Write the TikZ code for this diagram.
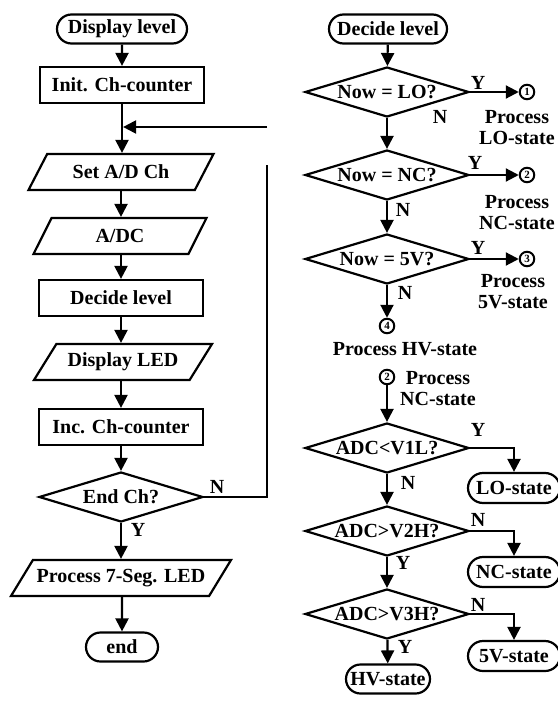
\documentclass[tikz,border=0pt]{standalone}
\usepackage{fontspec}
\setmainfont{Liberation Serif}
\usetikzlibrary{shapes,arrows.meta,calc}

\begin{document}
\begin{tikzpicture}[x=1pt,y=-1pt,line width=2.2pt,
    font=\fontsize{20}{21}\selectfont\bfseries,
    term/.style={draw,rounded rectangle,minimum height=29pt,inner xsep=0pt,inner ysep=2pt},
    proc/.style={draw,rectangle,minimum width=164pt,minimum height=36pt},
    io/.style={draw,trapezium,trapezium left angle=48,trapezium right angle=132,
        trapezium stretches body,minimum height=36pt,inner xsep=-10pt},
    dec/.style={draw,diamond,aspect=3.3,inner sep=-6pt,minimum width=164pt,minimum height=50pt},
    circ/.style={draw,circle,minimum size=14.5pt,inner sep=0pt,line width=2pt,
        font=\fontsize{11}{11}\selectfont\bfseries},
    state/.style={draw,rounded rectangle,minimum width=86pt,minimum height=30pt,inner xsep=-3pt,inner ysep=2pt},
    txt/.style={align=center,inner sep=0pt},
    conn/.style={-{Triangle[length=13pt,width=13pt]}}
]
    \useasboundingbox (0,0) rectangle (557,703);

    % left: display level
    \node[term,minimum width=130pt] (disp) at (122,29) {Display level};
    \node[proc] (init) at (122,85) {Init. Ch-counter};
    \node[io,minimum width=185pt] (setad) at (121,172) {Set A/D Ch};
    \node[io,minimum width=173pt] (adc) at (120,236) {A/DC};
    \node[proc] (decide) at (121,298) {Decide level};
    \node[io,minimum width=178pt] (led) at (123,362) {Display LED};
    \node[proc] (inc) at (121,427) {Inc. Ch-counter};
    \node[dec] (endch) at (121,497) {End Ch?};
    \node[io,minimum width=220pt] (seg) at (121,578) {Process 7-Seg. LED};
    \node[term,minimum width=72pt] (end) at (122,647) {end};

    \coordinate (nturn) at (267,497);
    \coordinate (ntop) at (267,165);
    \coordinate (back) at (267,127);

    \draw[conn] (disp) -- (init);
    \draw[conn] (init.south) -- (init.south |- setad.north);
    \draw[conn] (setad.south) -- (setad.south |- adc.north);
    \draw[conn] (adc.south -| decide) -- (decide);
    \draw[conn] (decide.south) -- (decide.south |- led.north);
    \draw[conn] (led.south -| inc) -- (inc);
    \draw[conn] (inc) -- (endch);
    \draw[conn] (endch) -- (endch.south |- seg.north);
    \draw[conn] (seg.south -| end) -- (end);
    \draw (endch.east) -- (nturn) -- (ntop);
    \draw[conn,shorten >=1.1pt] (back) -- (init.south |- back);
    \node at (217,487) {N};
    \node at (138,530) {Y};

    % right: decide level
    \node[term,minimum width=118pt] (dl) at (388,29) {Decide level};
    \node[dec] (lo) at (387,92) {Now = LO?};
    \node[dec] (nc) at (387,175) {Now = NC?};
    \node[dec] (fv) at (387,259) {Now = 5V?};
    \node[circ] (c1) at (527,92) {1};
    \node[circ] (c2) at (527,175) {2};
    \node[circ] (c3) at (527,259) {3};
    \node[circ] (c4) at (387,326) {4};
    \node[txt] (p1) at (517,128) {Process\\LO-state};
    \node[txt] (p2) at (517,213) {Process\\NC-state};
    \node[txt] (p3) at (513,292) {Process\\5V-state};
    \node[txt] (p4) at (405,349) {Process HV-state};

    \draw[conn] (dl) -- (lo);
    \draw[conn] (lo) -- (nc);
    \draw[conn] (nc) -- (fv);
    \draw[conn] (fv) -- (c4);
    \draw[conn] (lo.east) -- (c1);
    \draw[conn] (nc.east) -- (c2);
    \draw[conn] (fv.east) -- (c3);
    \node at (478,83) {Y};
    \node at (440,117) {N};
    \node at (475,163) {Y};
    \node at (403,210) {N};
    \node at (478,248) {Y};
    \node at (405,293) {N};

    % NC-state
    \node[circ] (c2b) at (387,377) {2};
    \node[txt] (p2b) at (438,389) {Process\\NC-state};
    \node[dec] (v1l) at (387,448) {ADC<V1L?};
    \node[dec] (v2h) at (387,531) {ADC>V2H?};
    \node[dec] (v3h) at (387,614) {ADC>V3H?};
    \node[state] (los) at (514,488) {LO-state};
    \node[state] (ncs) at (514,572) {NC-state};
    \node[state] (fvs) at (514,656) {5V-state};
    \node[term,minimum width=84pt] (hvs) at (388,679) {HV-state};

    \draw[conn] (c2b) -- (v1l);
    \draw[conn] (v1l) -- (v2h);
    \draw[conn] (v2h) -- (v3h);
    \draw[conn] (v3h) -- (hvs);
    \draw[conn] (v1l.east) -| (los.north);
    \draw[conn] (v2h.east) -| (ncs.north);
    \draw[conn] (v3h.east) -| (fvs.north);
    \node at (478,430) {Y};
    \node at (408,483) {N};
    \node at (478,520) {N};
    \node at (403,563) {Y};
    \node at (478,605) {N};
    \node at (405,647) {Y};
\end{tikzpicture}
\end{document}
